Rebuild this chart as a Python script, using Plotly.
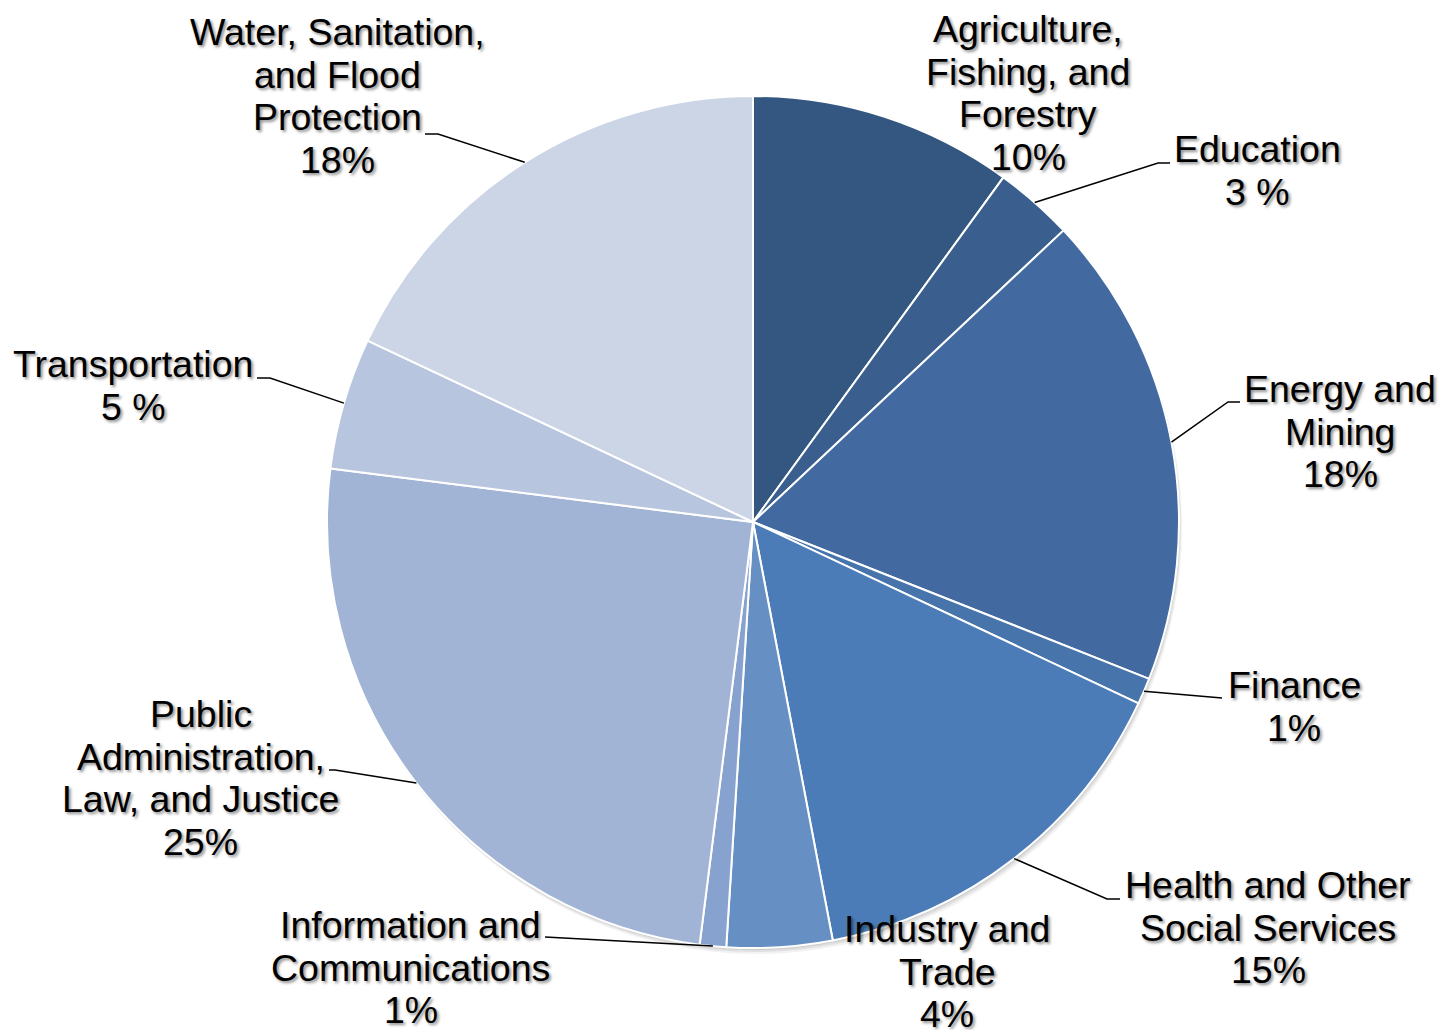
import math
import plotly.graph_objects as go

# Sector shares (percent), clockwise from 12 o'clock
sectors = [
    "Agriculture, Fishing, and Forestry",
    "Education",
    "Energy and Mining",
    "Finance",
    "Health and Other Social Services",
    "Industry and Trade",
    "Information and Communications",
    "Public Administration, Law, and Justice",
    "Transportation",
    "Water, Sanitation, and Flood Protection",
]
shares = [10, 3, 18, 1, 15, 4, 1, 25, 5, 18]
share_text = ["10%", "3 %", "18%", "1%", "15%", "4%", "1%", "25%", "5 %", "18%"]
label_lines = [
    ["Agriculture,", "Fishing, and", "Forestry"],
    ["Education"],
    ["Energy and", "Mining"],
    ["Finance"],
    ["Health and Other", "Social Services"],
    ["Industry and", "Trade"],
    ["Information and", "Communications"],
    ["Public", "Administration,", "Law, and Justice"],
    ["Transportation"],
    ["Water, Sanitation,", "and Flood", "Protection"],
]
colors = ["#335781", "#3a5f8e", "#426aa0", "#4775ab", "#4b7cb7",
          "#6690c4", "#88a2cf", "#a2b4d6", "#b8c5df", "#cbd5e6"]

W, H = 1439, 1030
CX, CY, R = 753, 522, 426

# Label placement in page pixels: text centre x, first baseline y,
# and the leader's elbow / end points (None = no leader)
label_pos = [
    (1028, 42, None, None),
    (1257, 162, (1158, 163), (1170, 163)),
    (1340, 402, (1228, 402), (1240, 402)),
    (1294, 698, (1222, 698), (1222, 698)),
    (1268, 898, (1107, 899), (1120, 899)),
    (947, 942, None, None),
    (411, 938, (545, 937), (545, 937)),
    (201, 727, (335, 770), (329, 770)),
    (133, 377, (270, 378), (257, 378)),
    (337, 45, (438, 134), (425, 134)),
]
LINE_GAP = 42.7
FONT = dict(family="Liberation Sans, Arial, sans-serif", size=37.5, color="black",
            shadow="2px 2px 3px rgba(0,0,0,0.45)")


def px(x):
    return x / W


def py(y):
    return 1 - y / H


fig = go.Figure()
fig.add_trace(go.Pie(
    labels=sectors,
    values=shares,
    sort=False,
    direction="clockwise",
    rotation=0,
    textinfo="none",
    hoverinfo="label+percent",
    marker=dict(colors=colors, line=dict(color="white", width=2)),
    domain=dict(x=[px(CX - R), px(CX + R)], y=[py(CY + R), py(CY - R)]),
    showlegend=False,
))

shapes = []
# soft drop shadow under the pie
for off, a in [(6, 0.05), (4, 0.07), (2, 0.09)]:
    shapes.append(dict(type="circle", xref="paper", yref="paper", layer="below",
                       x0=px(CX - R + off / 2), x1=px(CX + R + off / 2),
                       y0=py(CY + R + off), y1=py(CY - R + off),
                       fillcolor=f"rgba(0,0,0,{a})", line=dict(width=0)))

annotations = []
total = sum(shares)
cum = 0.0
for i, v in enumerate(shares):
    mid = (cum + v / 2) / total
    cum += v
    theta = 2 * math.pi * mid
    ax = CX + R * math.sin(theta)
    ay = CY - R * math.cos(theta)
    cx, base, elbow, end = label_pos[i]
    if elbow is not None:
        path = (f"M {px(ax)} {py(ay)} L {px(elbow[0])} {py(elbow[1])} "
                f"L {px(end[0])} {py(end[1])}")
        shapes.append(dict(type="path", xref="paper", yref="paper", path=path,
                           line=dict(color="black", width=1.5)))
    lines = label_lines[i] + [share_text[i]]
    for k, t in enumerate(lines):
        yb = base + k * LINE_GAP
        annotations.append(dict(
            text=t, x=px(cx), y=py(yb - 13), xref="paper", yref="paper",
            xanchor="center", yanchor="middle", showarrow=False, font=FONT,
        ))

fig.update_layout(
    width=W, height=H,
    margin=dict(l=0, r=0, t=0, b=0),
    paper_bgcolor="white",
    plot_bgcolor="white",
    shapes=shapes,
    annotations=annotations,
)

fig.write_html("out.html")
